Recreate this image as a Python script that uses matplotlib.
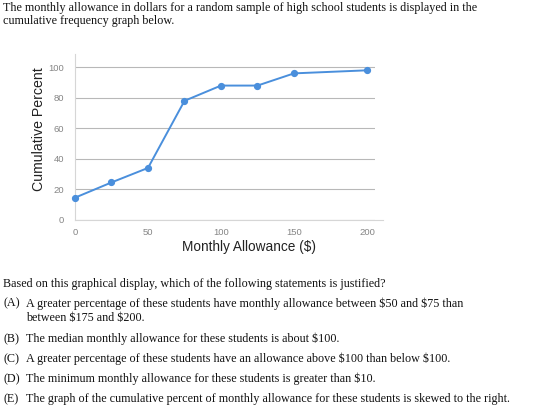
import matplotlib
matplotlib.use("Agg")
import matplotlib.pyplot as plt

allowance = [0, 25, 50, 75, 100, 125, 150, 200]
cum_percent = [14.5, 24.5, 34, 78, 88, 88, 96, 98]
x_ticks = [0, 50, 100, 150, 200]
y_ticks = [0, 20, 40, 60, 80, 100]

title_lines = [
    "The monthly allowance in dollars for a random sample of high school students is displayed in the",
    "cumulative frequency graph below.",
]
question = "Based on this graphical display, which of the following statements is justified?"
options = [
    ("(A)", ["A greater percentage of these students have monthly allowance between $50 and $75 than",
             "between $175 and $200."]),
    ("(B)", ["The median monthly allowance for these students is about $100."]),
    ("(C)", ["A greater percentage of these students have an allowance above $100 than below $100."]),
    ("(D)", ["The minimum monthly allowance for these students is greater than $10."]),
    ("(E)", ["The graph of the cumulative percent of monthly allowance for these students is skewed to the right."]),
]

W, H = 544, 419
fig = plt.figure(figsize=(W / 100, H / 100), dpi=100)
fig.patch.set_facecolor("white")

serif = "Liberation Serif"
fs_text = 8.7

def ftext(x, y, s, **kw):
    fig.text(x / W, 1 - y / H, s, family=serif, fontsize=fs_text, color="#111111",
             va="baseline", ha="left", parse_math=False, **kw)

ftext(3, 11.5, title_lines[0])
ftext(3, 23.8, title_lines[1])

ftext(3, 286.7, question)
ys = [306.7, 342.3, 362, 382.3, 402]
for (lab, lines), y in zip(options, ys):
    ftext(3, y, lab)
    for i, ln in enumerate(lines):
        ftext(26, y + i * 14, ln)

ax = fig.add_axes([75 / W, 1 - 219.8 / H, 300 / W, (219.8 - 54) / H])
ax.plot(allowance, cum_percent, color="#4a8fdc", lw=1.4, marker="o", ms=4.2,
        clip_on=False, zorder=3)
ax.set_xlim(0, 205.5)
ax.set_ylim(0, 108.7)
ax.set_xticks(x_ticks)
ax.set_yticks(y_ticks)
ax.yaxis.grid(True, color="#b8b8b8", lw=0.8)
ax.set_axisbelow(True)
for s in ["top", "right"]:
    ax.spines[s].set_visible(False)
ax.spines["left"].set_color("#d6d6d6")
ax.spines["bottom"].set_color("#d6d6d6")
ax.spines["bottom"].set_bounds(0, 211)
ax.tick_params(length=0, labelsize=6.8, labelcolor="#858585", pad=6)
ax.tick_params(axis="y", pad=8)
ax.set_xlabel("Monthly Allowance ($)", family="Liberation Sans", fontsize=9.8,
              color="#222222", parse_math=False)
ax.set_ylabel("Cumulative Percent", family="Liberation Sans", fontsize=10.2,
              color="#222222")
ax.xaxis.set_label_coords((249 - 75) / 300, (219.8 - 239.5) / 165.8)
ax.yaxis.set_label_coords((46 - 75) / 300, (219.8 - 129) / 165.8)
for lbl in ax.get_xticklabels() + ax.get_yticklabels():
    lbl.set_family("Liberation Sans")

fig.savefig("out.png", dpi=100, facecolor="white")
